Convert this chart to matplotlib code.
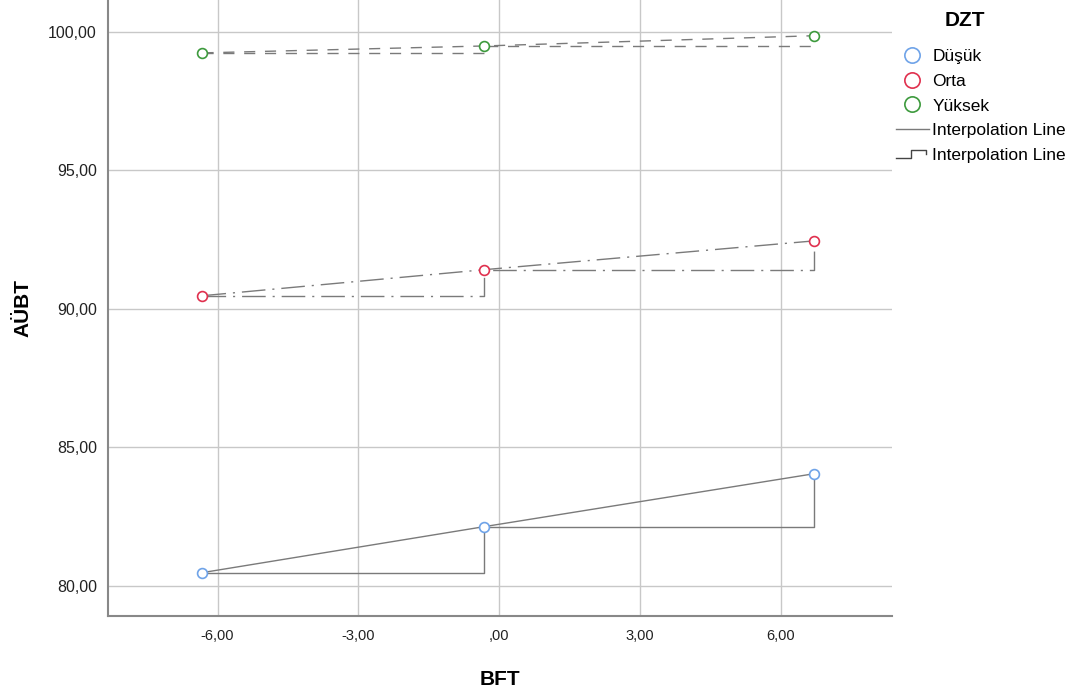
import matplotlib.pyplot as plt
from matplotlib.lines import Line2D
from matplotlib.legend_handler import HandlerBase
from matplotlib.ticker import FuncFormatter

plt.rcParams["font.family"] = ["Liberation Sans", "DejaVu Sans"]

# data
bft = [-6.32, -0.32, 6.70]
dusuk = [80.47, 82.13, 84.04]
orta = [90.47, 91.41, 92.45]
yuksek = [99.24, 99.49, 99.86]

groups = ["Düşük", "Orta", "Yüksek"]
colors = ["#6fa3e8", "#e0304e", "#3d9a3d"]
styles = ["-", (0, (17, 5, 1.5, 5)), (0, (8, 7))]
lineColor = "#7a7a7a"
gridColor = "#c8c8c8"


class StepHandler(HandlerBase):
    # draws the little step glyph used for the second legend line
    def create_artists(self, legend, orig_handle, xdescent, ydescent,
                       width, height, fontsize, trans):
        w = width
        h = height
        xs = [0 - xdescent, 0.45 * w, 0.45 * w, 0.9 * w, 0.9 * w]
        ys = [0.15 * h, 0.15 * h, 0.85 * h, 0.85 * h, 0.45 * h]
        line = Line2D(xs, ys, color=orig_handle.get_color(), lw=1)
        line.set_transform(trans)
        return [line]


fig = plt.figure(figsize=(10.81, 6.93), dpi=100)
ax = fig.add_axes([0.1, 0.111, 0.725, 0.889])

for vals, col, ls in zip([dusuk, orta, yuksek], colors, styles):
    ax.plot(bft, vals, color=lineColor, lw=1, linestyle=ls, zorder=2)
    ax.step(bft, vals, where="post", color=lineColor, lw=1, linestyle=ls, zorder=2)
    ax.scatter(bft, vals, s=50, facecolors="white", edgecolors=col,
               linewidths=1.2, zorder=3)

ax.set_xlim(-8.33, 8.36)
ax.set_ylim(78.9, 101.15)
ax.set_xticks([-6, -3, 0, 3, 6])
ax.set_yticks([80, 85, 90, 95, 100])


def comma_fmt(v, pos):
    s = "%.2f" % v
    s = s.replace(".", ",")
    if s.startswith("0,"):
        s = s[1:]
    if s.startswith("-0,"):
        s = "-" + s[2:]
    return s


ax.xaxis.set_major_formatter(FuncFormatter(comma_fmt))
ax.yaxis.set_major_formatter(FuncFormatter(comma_fmt))
ax.grid(True, color=gridColor, lw=1.0)
ax.set_axisbelow(True)
ax.tick_params(axis="y", length=0, labelsize=11.5, colors="#222222", pad=8)
ax.tick_params(axis="x", length=0, labelsize=10.5, colors="#222222", pad=9)
for side in ["top", "right"]:
    ax.spines[side].set_visible(False)
for side in ["left", "bottom"]:
    ax.spines[side].set_color("#888888")
    ax.spines[side].set_linewidth(1.5)

ax.set_xlabel("BFT", fontsize=15, fontweight="bold", labelpad=20)
ax.set_ylabel("AÜBT", fontsize=15, fontweight="bold", labelpad=11)

handles = []
for g, col in zip(groups, colors):
    handles.append(Line2D([], [], marker="o", linestyle="none", markersize=11,
                          markerfacecolor="white", markeredgecolor=col,
                          markeredgewidth=1.2))
handles.append(Line2D([], [], color=lineColor, lw=1))
stepHandle = Line2D([], [], color="#444444", lw=1)
handles.append(stepHandle)
labels = groups + ["Interpolation Line", "Interpolation Line"]

fig.text(965 / 1081, 1 - 20 / 693, "DZT", fontsize=15, fontweight="bold",
         ha="center", va="center")
leg = fig.legend(handles, labels, loc="upper left",
                 bbox_to_anchor=(896 / 1081, 1 - 49 / 693),
                 frameon=False, fontsize=12.5, handlelength=1.9,
                 handletextpad=0.2, labelspacing=0.55, borderaxespad=0,
                 borderpad=0, handler_map={stepHandle: StepHandler()})

plt.savefig("out.png", dpi=100)
plt.close()
